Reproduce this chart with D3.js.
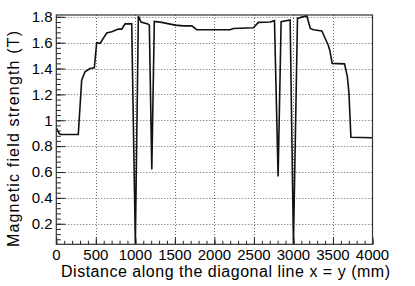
<!DOCTYPE html>
<html>
<head>
<meta charset="utf-8">
<script src="https://cdn.jsdelivr.net/npm/d3@7"></script>
<style>
  body { margin: 0; background: #fff; }
  svg { display: block; font-family: "Liberation Sans", Arial, sans-serif; }
</style>
</head>
<body>
<svg id="chart" width="415" height="286"></svg>
<script>
// distance along the diagonal (mm) and field strength (T)
const distance = [0, 40, 60, 278, 321, 363, 427, 481, 511, 553, 638, 701, 785, 828, 870, 954,
  1000, 1038, 1072, 1157, 1177, 1208, 1240, 1334, 1503, 1608, 1714, 1777, 2199, 2241, 2494,
  2557, 2705, 2760, 2806, 2844, 2958, 3000, 3051, 3148, 3170, 3213, 3253, 3359, 3401, 3440,
  3460, 3490, 3646, 3682, 3702, 3727, 4000]
const field = [0.94, 0.895, 0.89, 0.89, 1.31, 1.375, 1.40, 1.405, 1.60, 1.595, 1.675, 1.685, 1.705, 1.705, 1.745, 1.745,
  0.045, 1.805, 1.76, 1.745, 1.735, 0.62, 1.765, 1.757, 1.736, 1.73, 1.73, 1.70, 1.70, 1.71, 1.715,
  1.757, 1.76, 1.77, 0.565, 1.762, 1.775, 0.045, 1.788, 1.805, 1.805, 1.71, 1.70, 1.69, 1.634, 1.58,
  1.54, 1.44, 1.436, 1.338, 1.21, 0.869, 0.865]

const xTicks = [0, 500, 1000, 1500, 2000, 2500, 3000, 3500, 4000]
const yTicks = [0.2, 0.4, 0.6, 0.8, 1, 1.2, 1.4, 1.6, 1.8]
const xTitle = 'Distance along the diagonal line x = y (mm)'
const yTitle = 'Magnetic field strength (T)'

const frame = { left: 56.3, right: 372.5, top: 15, bottom: 244.3 }

const svg = d3.select('#chart')
const x = d3.scaleLinear().domain([0, 4000]).range([frame.left, frame.right])
const y = d3.scaleLinear().domain([0.041, 1.814]).range([frame.bottom, frame.top])

// grid
const grid = svg.append('g').attr('stroke', '#666').attr('stroke-width', 1).attr('stroke-dasharray', '1,2')
grid.selectAll('.gx').data(xTicks.slice(1, -1)).enter().append('line')
  .attr('x1', d => Math.round(x(d)) + 0.5).attr('x2', d => Math.round(x(d)) + 0.5)
  .attr('y1', frame.top).attr('y2', frame.bottom)
grid.selectAll('.gy').data(yTicks).enter().append('line')
  .attr('y1', d => Math.round(y(d)) + 0.5).attr('y2', d => Math.round(y(d)) + 0.5)
  .attr('x1', frame.left).attr('x2', frame.right)

// axes with inward ticks
const xMinor = d3.range(0, 4001, 100)
const yMinor = d3.range(0.08, 1.81, 0.04)
const xAxis = svg.append('g').attr('transform', `translate(0,${frame.bottom})`)
xAxis.call(d3.axisTop(x).tickValues(xMinor).tickSize(3.5).tickFormat(''))
xAxis.call(g => g.select('.domain').remove())
const xMajor = svg.append('g').attr('transform', `translate(0,${frame.bottom})`)
xMajor.call(d3.axisTop(x).tickValues(xTicks).tickSize(7).tickFormat(''))
xMajor.select('.domain').remove()
svg.append('g').selectAll('text').data(xTicks).enter().append('text')
  .attr('x', d => x(d)).attr('y', 259.5).attr('text-anchor', 'middle')
  .attr('font-size', 15).text(d => d)

const yAxis = svg.append('g').attr('transform', `translate(${frame.left},0)`)
yAxis.call(d3.axisRight(y).tickValues(yMinor).tickSize(4.5).tickFormat(''))
yAxis.select('.domain').remove()
const yMajor = svg.append('g').attr('transform', `translate(${frame.left},0)`)
yMajor.call(d3.axisRight(y).tickValues(yTicks).tickSize(9).tickFormat(''))
yMajor.select('.domain').remove()
svg.append('g').selectAll('text').data(yTicks).enter().append('text')
  .attr('x', 52.5).attr('y', d => y(d) + 5.3).attr('text-anchor', 'end')
  .attr('font-size', 15).text(d => d3.format('~g')(d))

svg.selectAll('.tick line').attr('stroke', '#222')

// curve
const line = d3.line().x(d => x(d[0])).y(d => y(d[1]))
svg.append('path').datum(d3.zip(distance, field))
  .attr('fill', 'none').attr('stroke', '#111').attr('stroke-width', 1.6)
  .attr('stroke-linejoin', 'miter').attr('d', line)

// frame
svg.append('rect').attr('x', frame.left).attr('y', frame.top)
  .attr('width', frame.right - frame.left).attr('height', frame.bottom - frame.top)
  .attr('fill', 'none').attr('stroke', '#333').attr('stroke-width', 1.2)

// titles
svg.append('text').attr('x', 61).attr('y', 276.5)
  .attr('font-size', 16).attr('textLength', 329).attr('lengthAdjust', 'spacing').text(xTitle)
svg.append('text').attr('transform', 'translate(19,247) rotate(-90)')
  .attr('font-size', 16).attr('textLength', 216).attr('lengthAdjust', 'spacing').text(yTitle)
</script>
</body>
</html>
